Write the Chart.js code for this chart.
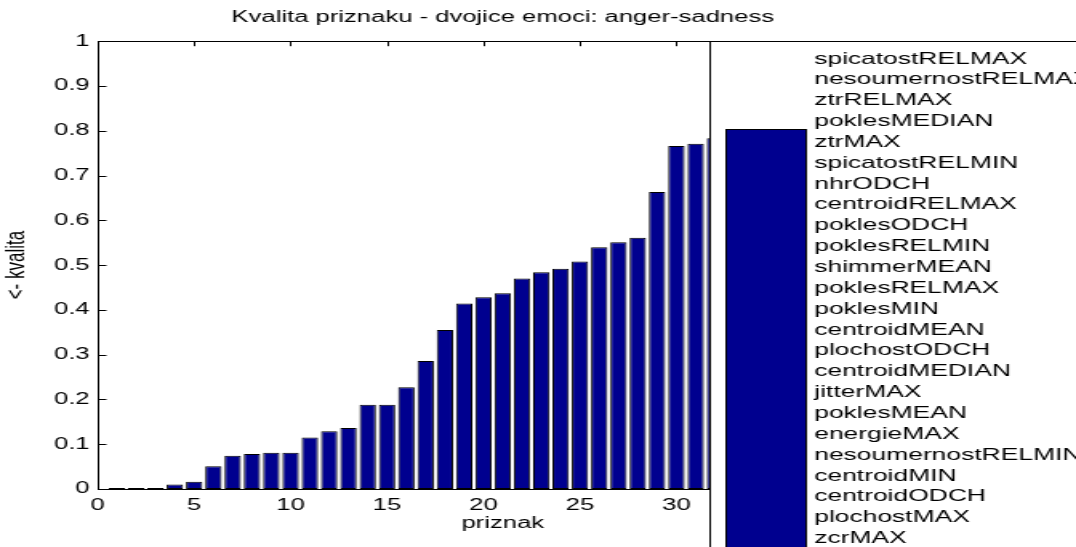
<!DOCTYPE html>
<html>
<head>
<meta charset="utf-8">
<title>Kvalita priznaku</title>
<script src="https://cdn.jsdelivr.net/npm/chart.js@4"></script>
<style>
  html, body { margin: 0; padding: 0; background: #fff; overflow: hidden; }
  /* the original figure is stretched sideways, so draw narrow and widen with css */
  #qualityChart { display: block; width: 1076px !important; height: 547px !important; }
</style>
</head>
<body>
<canvas id="qualityChart" width="672" height="547" style="width:1076px;height:547px"></canvas>
<script>
// bar heights (quality of each feature), feature index 1..32 (the rest sit under the legend)
const quality = [0.002, 0.002, 0.002, 0.010, 0.016, 0.051, 0.074, 0.078, 0.081, 0.081,
                 0.115, 0.129, 0.136, 0.188, 0.188, 0.227, 0.286, 0.355, 0.414, 0.428,
                 0.437, 0.470, 0.484, 0.492, 0.508, 0.540, 0.551, 0.561, 0.663, 0.766,
                 0.771, 0.783];
const xTicks = [0, 5, 10, 15, 20, 25, 30, 35, 40];
const yTicks = [0, 0.1, 0.2, 0.3, 0.4, 0.5, 0.6, 0.7, 0.8, 0.9, 1];
const yTickLabels = ['0', '0.1', '0.2', '0.3', '0.4', '0.5', '0.6', '0.7', '0.8', '0.9', '1'];
const legendNames = ['spicatostRELMAX', 'nesoumernostRELMAX', 'ztrRELMAX', 'poklesMEDIAN',
                     'ztrMAX', 'spicatostRELMIN', 'nhrODCH', 'centroidRELMAX', 'poklesODCH',
                     'poklesRELMIN', 'shimmerMEAN', 'poklesRELMAX', 'poklesMIN', 'centroidMEAN',
                     'plochostODCH', 'centroidMEDIAN', 'jitterMAX', 'poklesMEAN', 'energieMAX',
                     'nesoumernostRELMIN', 'centroidMIN', 'centroidODCH', 'plochostMAX', 'zcrMAX'];

const barColor = '#00008f';
const fontFamily = '"Liberation Sans", Arial, Helvetica, sans-serif';

Chart.defaults.color = '#000';
Chart.defaults.font.family = fontFamily;

// matlab style box: top edge + inward tick marks
const axesBox = {
    id: 'axesBox',
    beforeDatasetsDraw(chart) {
        const {ctx, chartArea: a, scales: {x, y}} = chart;
        ctx.save();
        ctx.strokeStyle = '#000';
        ctx.lineWidth = 1;
        ctx.beginPath();
        y.ticks.forEach(t => {
            const py = Math.round(y.getPixelForValue(t.value)) + 0.5;
            ctx.moveTo(a.left, py);
            ctx.lineTo(a.left + 5.5, py);
        });
        x.ticks.forEach(t => {
            const px = Math.round(x.getPixelForValue(t.value)) + 0.5;
            ctx.moveTo(px, a.bottom);
            ctx.lineTo(px, a.bottom - 5);
            ctx.moveTo(px, a.top);
            ctx.lineTo(px, a.top + 5);
        });
        ctx.stroke();
        ctx.restore();
    },
    afterDraw(chart) {
        const {ctx, chartArea: a} = chart;
        ctx.save();
        ctx.strokeStyle = '#000';
        ctx.lineWidth = 1;
        ctx.beginPath();
        ctx.moveTo(a.left, Math.round(a.top) + 0.5);
        ctx.lineTo(a.right, Math.round(a.top) + 0.5);
        ctx.stroke();
        ctx.restore();
    }
};

// the legend box sits over the right part of the axes
const bigLegend = {
    id: 'bigLegend',
    afterDraw(chart) {
        const {ctx, chartArea: a, width, height} = chart;
        const left = 443.5;
        const top = Math.round(a.top) + 0.5;
        ctx.save();
        ctx.fillStyle = '#fff';
        ctx.fillRect(left, top, width - left + 5, height - top + 5);
        ctx.strokeStyle = '#000';
        ctx.lineWidth = 1;
        ctx.strokeRect(left, top, width - left + 5, height - top + 5);

        ctx.fillStyle = barColor;
        ctx.fillRect(left + 10, 129, 50, height);
        ctx.strokeRect(left + 10, 129.5, 50, height);

        ctx.fillStyle = '#000';
        ctx.font = '16.5px ' + fontFamily;
        ctx.textBaseline = 'middle';
        legendNames.forEach((name, i) => {
            ctx.fillText(name, left + 65, 59 + i * 20.85);
        });
        ctx.restore();
    }
};

const ctx = document.getElementById('qualityChart').getContext('2d');
const chart = new Chart(ctx, {
    type: 'bar',
    data: {
        datasets: [{
            label: 'kvalita',
            data: quality.map((v, i) => ({x: i + 1, y: v})),
            backgroundColor: barColor,
            borderColor: '#000',
            borderWidth: 1,
            borderSkipped: false,
            barPercentage: 0.85,
            categoryPercentage: 1.0,
            clip: 0
        }]
    },
    options: {
        responsive: false,
        animation: false,
        layout: {
            padding: {left: 0, right: 105, top: 0, bottom: 0}
        },
        plugins: {
            legend: {display: false},
            tooltip: {enabled: false},
            title: {
                display: true,
                text: 'Kvalita priznaku - dvojice emoci: anger-sadness',
                fullSize: false,
                font: {size: 16, weight: 'normal'},
                padding: {top: 8, bottom: 14}
            }
        },
        scales: {
            x: {
                type: 'linear',
                min: 0,
                max: 42,
                offset: false,
                grid: {display: false, drawTicks: false},
                border: {display: true, color: '#000', width: 1},
                afterBuildTicks: s => { s.ticks = xTicks.map(v => ({value: v})); },
                afterFit: s => { s.height = 58; },
                ticks: {
                    font: {size: 16},
                    padding: 7,
                    maxRotation: 0,
                    autoSkip: false
                },
                title: {
                    display: true,
                    text: 'priznak',
                    font: {size: 16},
                    padding: {top: 0, bottom: 14}
                }
            },
            y: {
                min: 0,
                max: 1,
                grid: {display: false, drawTicks: false},
                border: {display: true, color: '#000', width: 1},
                afterBuildTicks: s => { s.ticks = yTicks.map(v => ({value: v})); },
                afterFit: s => { s.width = 61; },
                ticks: {
                    font: {size: 16},
                    padding: 5,
                    callback: (v, i) => yTickLabels[i]
                },
                title: {
                    display: true,
                    text: '<- kvalita',
                    font: {size: 17},
                    padding: {top: 0, bottom: 0}
                }
            }
        }
    },
    plugins: [axesBox, bigLegend]
});
</script>
</body>
</html>
